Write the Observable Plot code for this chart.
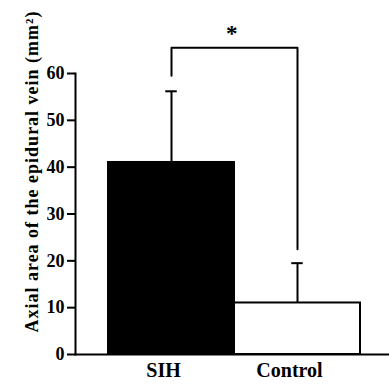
<!DOCTYPE html>
<html>
<head>
<meta charset="utf-8">
<script src="https://cdn.jsdelivr.net/npm/d3@7"></script>
<script src="https://cdn.jsdelivr.net/npm/@observablehq/plot@0.6"></script>
<style>
  html, body { margin: 0; padding: 0; background: #fff; }
  svg { display: block; }
</style>
</head>
<body>
<div id="chart"></div>
<script>
const groups = ["SIH", "Control"];
const means = [41, 11];
const sds = [15.2, 8.5];
const fills = ["#000", "#fff"];
const yTicks = [0, 10, 20, 30, 40, 50, 60];
const yLabel = "Axial area of the epidural vein (mm²)";
const bracketGroups = ["SIH", "SIH", "Control", "Control"];
const bracketValues = [59.5, 65.5, 65.5, 22.5];
const sigLabel = "*";
const sigValue = 68.5;

const data = groups.map((g, i) => ({group: g, mean: means[i], top: means[i] + sds[i], fill: fills[i]}));
const bracket = bracketGroups.map((g, i) => ({group: g, value: bracketValues[i]}));

const xRange = [107, 360];
const step = (xRange[1] - xRange[0]) / groups.length;
const font = "'Liberation Serif', 'Times New Roman', serif";

const chart = Plot.plot({
  width: 389,
  height: 387,
  marginLeft: 75,
  marginRight: 1,
  marginTop: 73,
  marginBottom: 33,
  style: {fontFamily: font, fontWeight: "bold", color: "#000", background: "#fff"},
  x: {domain: groups, range: xRange, padding: 0, label: null},
  y: {domain: [0, 60], label: null},
  marks: [
    Plot.barY(data, {x: "group", y: "mean", fill: "fill", stroke: "#000", strokeWidth: 2}),
    Plot.ruleX(data, {x: "group", y1: "mean", y2: "top", stroke: "#000", strokeWidth: 2}),
    Plot.tickY(data, {x: "group", y: "top", stroke: "#000", strokeWidth: 2, insetLeft: step / 2 - 6, insetRight: step / 2 - 6}),
    Plot.line(bracket, {x: "group", y: "value", stroke: "#000", strokeWidth: 2, curve: "linear"}),
    Plot.text([sigLabel], {x: () => groups[0], y: () => sigValue, text: d => d, dx: step / 2 - 3, fontSize: 23, fontWeight: "bold"}),
    Plot.frame({anchor: "left", stroke: "#000", strokeWidth: 2}),
    Plot.frame({anchor: "bottom", stroke: "#000", strokeWidth: 2}),
    Plot.axisY({ticks: yTicks, tickSize: 8, tickPadding: 3, fontSize: 18, fontWeight: "bold", label: null, strokeWidth: 2}),
    Plot.axisX({tickSize: 0, tickPadding: 8, fontSize: 20, fontWeight: "bold", label: null, dx: -8}),
    Plot.text([yLabel], {frameAnchor: "top-left", rotate: -90, textAnchor: "end", dx: -50, dy: -63, fontSize: 18, fontWeight: "bold"})
  ]
});
d3.select(chart).selectAll("text").filter(function() { return this.textContent === yLabel; }).attr("letter-spacing", "1px");
document.getElementById("chart").appendChild(chart);
</script>
</body>
</html>
